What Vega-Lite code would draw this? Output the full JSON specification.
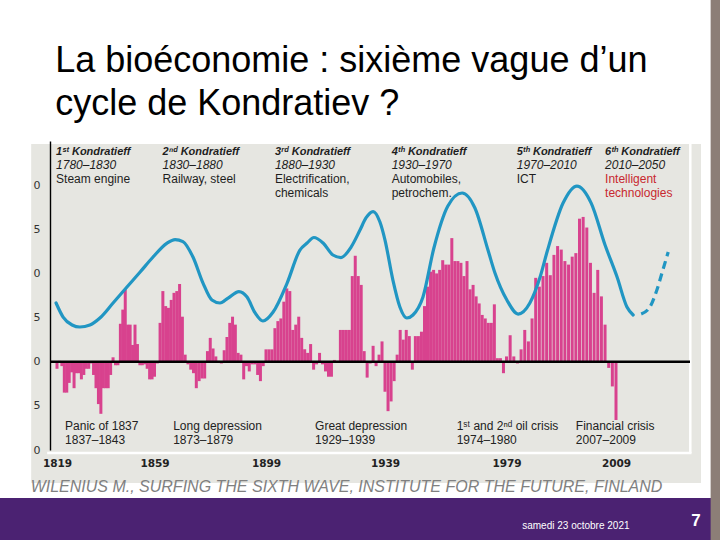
{
  "$schema": "https://vega.github.io/schema/vega-lite/v6.json",
  "width": 640,
  "height": 309,
  "autosize": {"type": "none"},
  "padding": {"left": 50, "top": 141, "right": 30, "bottom": 90},
  "background": "#ffffff",
  "config": {"view": {"stroke": null}, "text": {"font": "Liberation Sans"}},
  "datasets": {
    "returns": [
      {"year": 1819, "value": -0.8}, {"year": 1820, "value": 0.1}, {"year": 1821, "value": -0.5}, {"year": 1822, "value": -3.5},
      {"year": 1823, "value": -3.5}, {"year": 1824, "value": -2.4}, {"year": 1825, "value": -1.2}, {"year": 1826, "value": -3.0},
      {"year": 1827, "value": -1.3}, {"year": 1828, "value": -1.3}, {"year": 1829, "value": -2.0}, {"year": 1830, "value": -1.5},
      {"year": 1831, "value": -0.8}, {"year": 1832, "value": -0.8}, {"year": 1833, "value": -0.2}, {"year": 1834, "value": -1.5},
      {"year": 1835, "value": -3.0}, {"year": 1836, "value": -4.8}, {"year": 1837, "value": -5.9}, {"year": 1838, "value": -3.0},
      {"year": 1839, "value": -3.0}, {"year": 1840, "value": -3.0}, {"year": 1841, "value": -1.5}, {"year": 1842, "value": 0.5},
      {"year": 1843, "value": -0.4}, {"year": 1844, "value": -0.4}, {"year": 1845, "value": 4.3}, {"year": 1846, "value": 5.9},
      {"year": 1847, "value": 8.2}, {"year": 1848, "value": 4.2}, {"year": 1849, "value": 4.2}, {"year": 1850, "value": 1.9},
      {"year": 1851, "value": 4.2}, {"year": 1852, "value": 2.0}, {"year": 1853, "value": -0.4}, {"year": 1854, "value": -0.4},
      {"year": 1855, "value": -0.3}, {"year": 1856, "value": -0.8}, {"year": 1857, "value": -2.0}, {"year": 1858, "value": -2.0},
      {"year": 1859, "value": -1.7}, {"year": 1860, "value": -0.2}, {"year": 1861, "value": 4.4}, {"year": 1862, "value": 8.0},
      {"year": 1863, "value": 6.3}, {"year": 1864, "value": 6.1}, {"year": 1865, "value": 7.0}, {"year": 1866, "value": 7.8},
      {"year": 1867, "value": 8.0}, {"year": 1868, "value": 8.8}, {"year": 1869, "value": 5.1}, {"year": 1870, "value": 0.8},
      {"year": 1871, "value": -0.3}, {"year": 1872, "value": -0.9}, {"year": 1873, "value": -1.3}, {"year": 1874, "value": -3.0},
      {"year": 1875, "value": -2.2}, {"year": 1876, "value": -1.9}, {"year": 1877, "value": -1.9}, {"year": 1878, "value": 1.2},
      {"year": 1879, "value": 2.7}, {"year": 1880, "value": 1.5}, {"year": 1881, "value": 0.6}, {"year": 1882, "value": 0.1},
      {"year": 1883, "value": -0.2}, {"year": 1884, "value": 1.3}, {"year": 1885, "value": 2.8}, {"year": 1886, "value": 4.4},
      {"year": 1887, "value": 5.1}, {"year": 1888, "value": 4.2}, {"year": 1889, "value": 1.0}, {"year": 1890, "value": 0.8},
      {"year": 1891, "value": -2.0}, {"year": 1892, "value": -0.5}, {"year": 1893, "value": -1.1}, {"year": 1894, "value": -0.3},
      {"year": 1895, "value": -0.3}, {"year": 1896, "value": -1.5}, {"year": 1897, "value": -2.2}, {"year": 1898, "value": -0.5},
      {"year": 1899, "value": 1.4}, {"year": 1900, "value": 1.4}, {"year": 1901, "value": 1.4}, {"year": 1902, "value": 3.8},
      {"year": 1903, "value": 4.6}, {"year": 1904, "value": 4.9}, {"year": 1905, "value": 6.8}, {"year": 1906, "value": 8.3},
      {"year": 1907, "value": 8.0}, {"year": 1908, "value": 3.6}, {"year": 1909, "value": 4.2}, {"year": 1910, "value": 5.1},
      {"year": 1911, "value": 2.7}, {"year": 1912, "value": 1.4}, {"year": 1913, "value": 1.0}, {"year": 1914, "value": 2.0},
      {"year": 1915, "value": -0.9}, {"year": 1916, "value": -0.3}, {"year": 1917, "value": 1.0}, {"year": 1918, "value": -0.3},
      {"year": 1919, "value": -1.1}, {"year": 1920, "value": -1.7}, {"year": 1921, "value": -1.7}, {"year": 1922, "value": 0.2},
      {"year": 1923, "value": 0.1}, {"year": 1924, "value": 3.6}, {"year": 1925, "value": 3.6}, {"year": 1926, "value": 3.6},
      {"year": 1927, "value": 3.6}, {"year": 1928, "value": 9.7}, {"year": 1929, "value": 12.0}, {"year": 1930, "value": 9.7},
      {"year": 1931, "value": 8.7}, {"year": 1932, "value": 1.2}, {"year": 1933, "value": -1.8}, {"year": 1934, "value": -0.2},
      {"year": 1935, "value": 1.8}, {"year": 1936, "value": -0.5}, {"year": 1937, "value": 0.8}, {"year": 1938, "value": 2.3},
      {"year": 1939, "value": -3.4}, {"year": 1940, "value": -5.6}, {"year": 1941, "value": -4.5}, {"year": 1942, "value": -2.2},
      {"year": 1943, "value": 0.8}, {"year": 1944, "value": 3.6}, {"year": 1945, "value": 2.5}, {"year": 1946, "value": 3.6},
      {"year": 1947, "value": 2.9}, {"year": 1948, "value": -0.9}, {"year": 1949, "value": 2.9}, {"year": 1950, "value": 2.9},
      {"year": 1951, "value": 3.4}, {"year": 1952, "value": 6.3}, {"year": 1953, "value": 8.5}, {"year": 1954, "value": 10.2},
      {"year": 1955, "value": 10.4}, {"year": 1956, "value": 10.0}, {"year": 1957, "value": 10.4}, {"year": 1958, "value": 11.5},
      {"year": 1959, "value": 11.0}, {"year": 1960, "value": 11.0}, {"year": 1961, "value": 14.0}, {"year": 1962, "value": 11.4},
      {"year": 1963, "value": 11.4}, {"year": 1964, "value": 11.2}, {"year": 1965, "value": 9.7}, {"year": 1966, "value": 11.4},
      {"year": 1967, "value": 8.2}, {"year": 1968, "value": 8.7}, {"year": 1969, "value": 7.4}, {"year": 1970, "value": 6.6},
      {"year": 1971, "value": 5.3}, {"year": 1972, "value": 4.9}, {"year": 1973, "value": 4.4}, {"year": 1974, "value": 4.4},
      {"year": 1975, "value": 6.5}, {"year": 1976, "value": 0.4}, {"year": 1977, "value": 0.4}, {"year": 1978, "value": -1.3},
      {"year": 1979, "value": 0.6}, {"year": 1980, "value": 3.0}, {"year": 1981, "value": 0.6}, {"year": 1982, "value": -0.2},
      {"year": 1983, "value": 1.4}, {"year": 1984, "value": 3.6}, {"year": 1985, "value": 2.3}, {"year": 1986, "value": 4.9},
      {"year": 1987, "value": 9.5}, {"year": 1988, "value": 8.5}, {"year": 1989, "value": 9.7}, {"year": 1990, "value": 11.2},
      {"year": 1991, "value": 9.8}, {"year": 1992, "value": 12.1}, {"year": 1993, "value": 13.1}, {"year": 1994, "value": 12.7},
      {"year": 1995, "value": 11.4}, {"year": 1996, "value": 11.0}, {"year": 1997, "value": 11.9}, {"year": 1998, "value": 12.3},
      {"year": 1999, "value": 16.2}, {"year": 2000, "value": 16.4}, {"year": 2001, "value": 15.2}, {"year": 2002, "value": 11.2},
      {"year": 2003, "value": 7.8}, {"year": 2004, "value": 10.4}, {"year": 2005, "value": 7.4}, {"year": 2006, "value": 4.2},
      {"year": 2007, "value": -0.7}, {"year": 2008, "value": -2.8}, {"year": 2009, "value": -6.6}
    ],
    "wave": [
      {"year": 1818.6, "level": 6.65, "part": "past"}, {"year": 1821.5, "level": 5.06, "part": "past"},
      {"year": 1825.2, "level": 4.16, "part": "past"}, {"year": 1828.4, "level": 3.93, "part": "past"},
      {"year": 1832.5, "level": 4.16, "part": "past"}, {"year": 1836.6, "level": 4.95, "part": "past"},
      {"year": 1842.0, "level": 6.65, "part": "past"}, {"year": 1847.7, "level": 8.46, "part": "past"},
      {"year": 1853.1, "level": 10.16, "part": "past"}, {"year": 1858.4, "level": 11.86, "part": "past"},
      {"year": 1863.5, "level": 13.44, "part": "past"}, {"year": 1866.4, "level": 13.84, "part": "past"},
      {"year": 1869.2, "level": 13.61, "part": "past"}, {"year": 1872.8, "level": 11.86, "part": "past"},
      {"year": 1876.4, "level": 8.91, "part": "past"}, {"year": 1879.6, "level": 6.99, "part": "past"},
      {"year": 1882.5, "level": 6.65, "part": "past"}, {"year": 1885.4, "level": 7.21, "part": "past"},
      {"year": 1889.3, "level": 7.95, "part": "past"}, {"year": 1892.2, "level": 7.33, "part": "past"},
      {"year": 1895.1, "level": 5.52, "part": "past"}, {"year": 1897.9, "level": 4.61, "part": "past"},
      {"year": 1901.4, "level": 5.63, "part": "past"}, {"year": 1906.1, "level": 8.91, "part": "past"},
      {"year": 1910.4, "level": 12.65, "part": "past"}, {"year": 1912.8, "level": 13.44, "part": "past"},
      {"year": 1915.1, "level": 14.07, "part": "past"}, {"year": 1918.2, "level": 13.44, "part": "past"},
      {"year": 1921.5, "level": 12.09, "part": "past"}, {"year": 1924.2, "level": 11.8, "part": "past"},
      {"year": 1927.6, "level": 12.99, "part": "past"}, {"year": 1930.6, "level": 14.92, "part": "past"},
      {"year": 1932.6, "level": 16.28, "part": "past"}, {"year": 1935.0, "level": 17.01, "part": "past"},
      {"year": 1937.3, "level": 15.82, "part": "past"}, {"year": 1939.0, "level": 13.78, "part": "past"},
      {"year": 1941.6, "level": 9.25, "part": "past"}, {"year": 1943.9, "level": 6.2, "part": "past"},
      {"year": 1946.2, "level": 4.95, "part": "past"}, {"year": 1948.2, "level": 5.29, "part": "past"},
      {"year": 1951.5, "level": 7.33, "part": "past"}, {"year": 1955.1, "level": 12.88, "part": "past"},
      {"year": 1959.7, "level": 17.64, "part": "past"}, {"year": 1964.4, "level": 19.11, "part": "past"},
      {"year": 1968.6, "level": 17.41, "part": "past"}, {"year": 1972.9, "level": 12.65, "part": "past"},
      {"year": 1975.2, "level": 10.05, "part": "past"}, {"year": 1979.1, "level": 6.99, "part": "past"},
      {"year": 1982.2, "level": 5.4, "part": "past"}, {"year": 1985.4, "level": 6.65, "part": "past"},
      {"year": 1988.2, "level": 9.59, "part": "past"}, {"year": 1990.1, "level": 12.42, "part": "past"},
      {"year": 1994.5, "level": 17.97, "part": "past"}, {"year": 1998.3, "level": 19.9, "part": "past"},
      {"year": 2002.2, "level": 17.97, "part": "past"}, {"year": 2006.0, "level": 13.22, "part": "past"},
      {"year": 2009.3, "level": 9.59, "part": "past"}, {"year": 2012.0, "level": 6.2, "part": "past"},
      {"year": 2013.7, "level": 5.29, "part": "past"},
      {"year": 2015.9, "level": 5.4, "part": "projection"}, {"year": 2018.3, "level": 6.2, "part": "projection"},
      {"year": 2020.2, "level": 8.12, "part": "projection"}, {"year": 2021.6, "level": 10.05, "part": "projection"},
      {"year": 2023.3, "level": 12.42, "part": "projection"}
    ],
    "periods": [
      {"wave": 1, "kind": "name", "text": "1ˢᵗ Kondratieff", "year": 1818.6, "level": 23.8},
      {"wave": 1, "kind": "span", "text": "1780–1830", "year": 1818.6, "level": 22.3},
      {"wave": 1, "kind": "tech", "text": "Steam engine", "year": 1818.6, "level": 20.7},
      {"wave": 2, "kind": "name", "text": "2ⁿᵈ Kondratieff", "year": 1861.9, "level": 23.8},
      {"wave": 2, "kind": "span", "text": "1830–1880", "year": 1861.9, "level": 22.3},
      {"wave": 2, "kind": "tech", "text": "Railway, steel", "year": 1861.9, "level": 20.7},
      {"wave": 3, "kind": "name", "text": "3ʳᵈ Kondratieff", "year": 1902.0, "level": 23.8},
      {"wave": 3, "kind": "span", "text": "1880–1930", "year": 1902.0, "level": 22.3},
      {"wave": 3, "kind": "tech", "text": "Electrification,", "year": 1902.0, "level": 20.7},
      {"wave": 3, "kind": "tech", "text": "chemicals", "year": 1902.0, "level": 19.1},
      {"wave": 4, "kind": "name", "text": "4ᵗʰ Kondratieff", "year": 1941.2, "level": 23.8},
      {"wave": 4, "kind": "span", "text": "1930–1970", "year": 1941.2, "level": 22.3},
      {"wave": 4, "kind": "tech", "text": "Automobiles,", "year": 1941.2, "level": 20.7},
      {"wave": 4, "kind": "tech", "text": "petrochem.", "year": 1941.2, "level": 19.1},
      {"wave": 5, "kind": "name", "text": "5ᵗʰ Kondratieff", "year": 1981.8, "level": 23.8},
      {"wave": 5, "kind": "span", "text": "1970–2010", "year": 1981.8, "level": 22.3},
      {"wave": 5, "kind": "tech", "text": "ICT", "year": 1981.8, "level": 20.7},
      {"wave": 6, "kind": "name", "text": "6ᵗʰ Kondratieff", "year": 2006.0, "level": 23.8},
      {"wave": 6, "kind": "span", "text": "2010–2050", "year": 2006.0, "level": 22.3},
      {"wave": 6, "kind": "tech", "text": "Intelligent", "year": 2006.0, "level": 20.7},
      {"wave": 6, "kind": "tech", "text": "technologies", "year": 2006.0, "level": 19.1}
    ],
    "events": [
      {"text": "Panic of 1837", "year": 1822.3, "level": -7.28},
      {"text": "1837–1843", "year": 1822.3, "level": -8.87},
      {"text": "Long depression", "year": 1865.7, "level": -7.28},
      {"text": "1873–1879", "year": 1865.7, "level": -8.87},
      {"text": "Great depression", "year": 1915.5, "level": -7.28},
      {"text": "1929–1939", "year": 1915.5, "level": -8.87},
      {"text": "1ˢᵗ and 2ⁿᵈ oil crisis", "year": 1962.6, "level": -7.28},
      {"text": "1974–1980", "year": 1962.6, "level": -8.87},
      {"text": "Financial crisis", "year": 1998.0, "level": -7.28},
      {"text": "2007–2009", "year": 1998.0, "level": -8.87}
    ]
  },
  "layer": [
    {
      "data": {"values": [{}]},
      "mark": {"type": "rect", "fill": "#e6e6e1"},
      "encoding": {
        "x": {"datum": 1807.4, "type": "quantitative"},
        "x2": {"datum": 2032.8},
        "y": {"datum": 24.66, "type": "quantitative"},
        "y2": {"datum": -13.74}
      }
    },
    {
      "data": {"values": [{}]},
      "mark": {"type": "rect", "fill": "#4b2272"},
      "encoding": {
        "x": {"datum": 1790.0, "type": "quantitative"},
        "x2": {"datum": 2036.1},
        "y": {"datum": -15.44, "type": "quantitative"},
        "y2": {"datum": -21.5}
      }
    },
    {
      "data": {"values": [{}]},
      "mark": {"type": "rect", "fill": "#8c7e77"},
      "encoding": {
        "x": {"datum": 2035.85, "type": "quantitative"},
        "x2": {"datum": 2040},
        "y": {"datum": 41.0, "type": "quantitative"},
        "y2": {"datum": -21.5}
      }
    },
    {
      "data": {"values": [{}]},
      "mark": {"type": "rule", "color": "#ffffff", "strokeWidth": 2.5},
      "encoding": {
        "x": {"datum": 2029.41, "type": "quantitative"},
        "y": {"datum": -10.34, "type": "quantitative"},
        "y2": {"datum": 24.66}
      }
    },
    {
      "data": {"values": [{}]},
      "mark": {"type": "rule", "color": "#ffffff", "strokeWidth": 2.5},
      "encoding": {
        "x": {"datum": 1814.7, "type": "quantitative"},
        "x2": {"datum": 2029.8},
        "y": {"datum": -10.34, "type": "quantitative"}
      }
    },
    {
      "data": {"name": "returns"},
      "mark": {"type": "bar", "width": 3, "color": "#d8428e"},
      "encoding": {
        "x": {
          "field": "year",
          "type": "quantitative",
          "scale": {
            "domain": [1790, 1816, 1819, 1859, 1899, 1939, 1979, 2009, 2029, 2040],
            "range": [-60.63, 0, 7, 104.5, 216, 335, 456.5, 566, 639, 679.15],
            "nice": false,
            "zero": false
          },
          "axis": {
            "values": [1819, 1859, 1899, 1939, 1979, 2009],
            "format": "d",
            "domain": false,
            "ticks": false,
            "grid": false,
            "labelFont": "DejaVu Sans",
            "labelFontWeight": "bold",
            "labelFontSize": 10.5,
            "labelColor": "#222222",
            "labelPadding": 8,
            "labelFlush": false,
            "labelOverlap": false,
            "title": "WILENIUS M., SURFING THE SIXTH WAVE, INSTITUTE FOR THE FUTURE, FINLAND",
            "titleFont": "Liberation Sans",
            "titleFontStyle": "italic",
            "titleFontWeight": "normal",
            "titleFontSize": 16,
            "titleColor": "#808080",
            "titleX": 296,
            "titleY": 41,
            "titleAlign": "center",
            "titleBaseline": "alphabetic",
            "zindex": 1
          }
        },
        "y": {
          "field": "value",
          "type": "quantitative",
          "scale": {"domain": [-10, 25], "nice": false, "zero": false},
          "axis": {
            "values": [-10, -5, 0, 5, 10, 15, 20],
            "labelExpr": "slice(datum.label, -1)",
            "domain": true,
            "domainColor": "#000000",
            "domainWidth": 1.4,
            "ticks": false,
            "grid": false,
            "labelFont": "DejaVu Sans",
            "labelFontSize": 11,
            "labelColor": "#333333",
            "labelPadding": 10,
            "title": null,
            "zindex": 1
          }
        }
      }
    },
    {
      "data": {"values": [{}]},
      "mark": {"type": "rule", "color": "#000000", "strokeWidth": 2.4},
      "encoding": {"y": {"datum": 0, "type": "quantitative"}}
    },
    {
      "data": {"name": "wave"},
      "transform": [{"filter": "datum.part == 'past'"}],
      "mark": {"type": "line", "color": "#2196c3", "strokeWidth": 3.2, "interpolate": "monotone", "strokeCap": "round"},
      "encoding": {
        "x": {"field": "year", "type": "quantitative"},
        "y": {"field": "level", "type": "quantitative"}
      }
    },
    {
      "data": {"name": "wave"},
      "transform": [{"filter": "datum.part == 'projection'"}],
      "mark": {"type": "line", "color": "#2196c3", "strokeWidth": 3.2, "interpolate": "monotone", "strokeDash": [8, 5]},
      "encoding": {
        "x": {"field": "year", "type": "quantitative"},
        "y": {"field": "level", "type": "quantitative"}
      }
    },
    {
      "data": {"name": "periods"},
      "transform": [{"filter": "datum.kind == 'name'"}],
      "mark": {"type": "text", "align": "left", "baseline": "middle", "fontSize": 11, "fontWeight": "bold", "fontStyle": "italic", "color": "#1e1e1e"},
      "encoding": {
        "x": {"field": "year", "type": "quantitative"},
        "y": {"field": "level", "type": "quantitative"},
        "text": {"field": "text"}
      }
    },
    {
      "data": {"name": "periods"},
      "transform": [{"filter": "datum.kind == 'span'"}],
      "mark": {"type": "text", "align": "left", "baseline": "middle", "fontSize": 12, "fontStyle": "italic", "color": "#1e1e1e"},
      "encoding": {
        "x": {"field": "year", "type": "quantitative"},
        "y": {"field": "level", "type": "quantitative"},
        "text": {"field": "text"}
      }
    },
    {
      "data": {"name": "periods"},
      "transform": [{"filter": "datum.kind == 'tech'"}],
      "mark": {"type": "text", "align": "left", "baseline": "middle", "fontSize": 12},
      "encoding": {
        "x": {"field": "year", "type": "quantitative"},
        "y": {"field": "level", "type": "quantitative"},
        "text": {"field": "text"},
        "color": {"condition": {"test": "datum.wave == 6", "value": "#c8282f"}, "value": "#1e1e1e"}
      }
    },
    {
      "data": {"name": "events"},
      "mark": {"type": "text", "align": "left", "baseline": "middle", "fontSize": 12, "color": "#222222"},
      "encoding": {
        "x": {"field": "year", "type": "quantitative"},
        "y": {"field": "level", "type": "quantitative"},
        "text": {"field": "text"}
      }
    },
    {
      "data": {"values": [{}]},
      "mark": {
        "type": "text",
        "text": ["La bioéconomie : sixième vague d’un", "cycle de Kondratiev ?"],
        "align": "left",
        "baseline": "top",
        "fontSize": 36,
        "lineHeight": 43,
        "color": "#000000"
      },
      "encoding": {
        "x": {"datum": 1818.2, "type": "quantitative"},
        "y": {"datum": 35.98, "type": "quantitative"}
      }
    },
    {
      "data": {"values": [{}]},
      "mark": {"type": "text", "text": "samedi 23 octobre 2021", "align": "center", "baseline": "middle", "fontSize": 10, "color": "#ffffff"},
      "encoding": {
        "x": {"datum": 1998.0, "type": "quantitative"},
        "y": {"datum": -18.6, "type": "quantitative"}
      }
    },
    {
      "data": {"values": [{}]},
      "mark": {"type": "text", "text": "7", "align": "center", "baseline": "middle", "fontSize": 17, "fontWeight": "bold", "color": "#ffffff"},
      "encoding": {
        "x": {"datum": 2031.2, "type": "quantitative"},
        "y": {"datum": -18.0, "type": "quantitative"}
      }
    }
  ]
}
